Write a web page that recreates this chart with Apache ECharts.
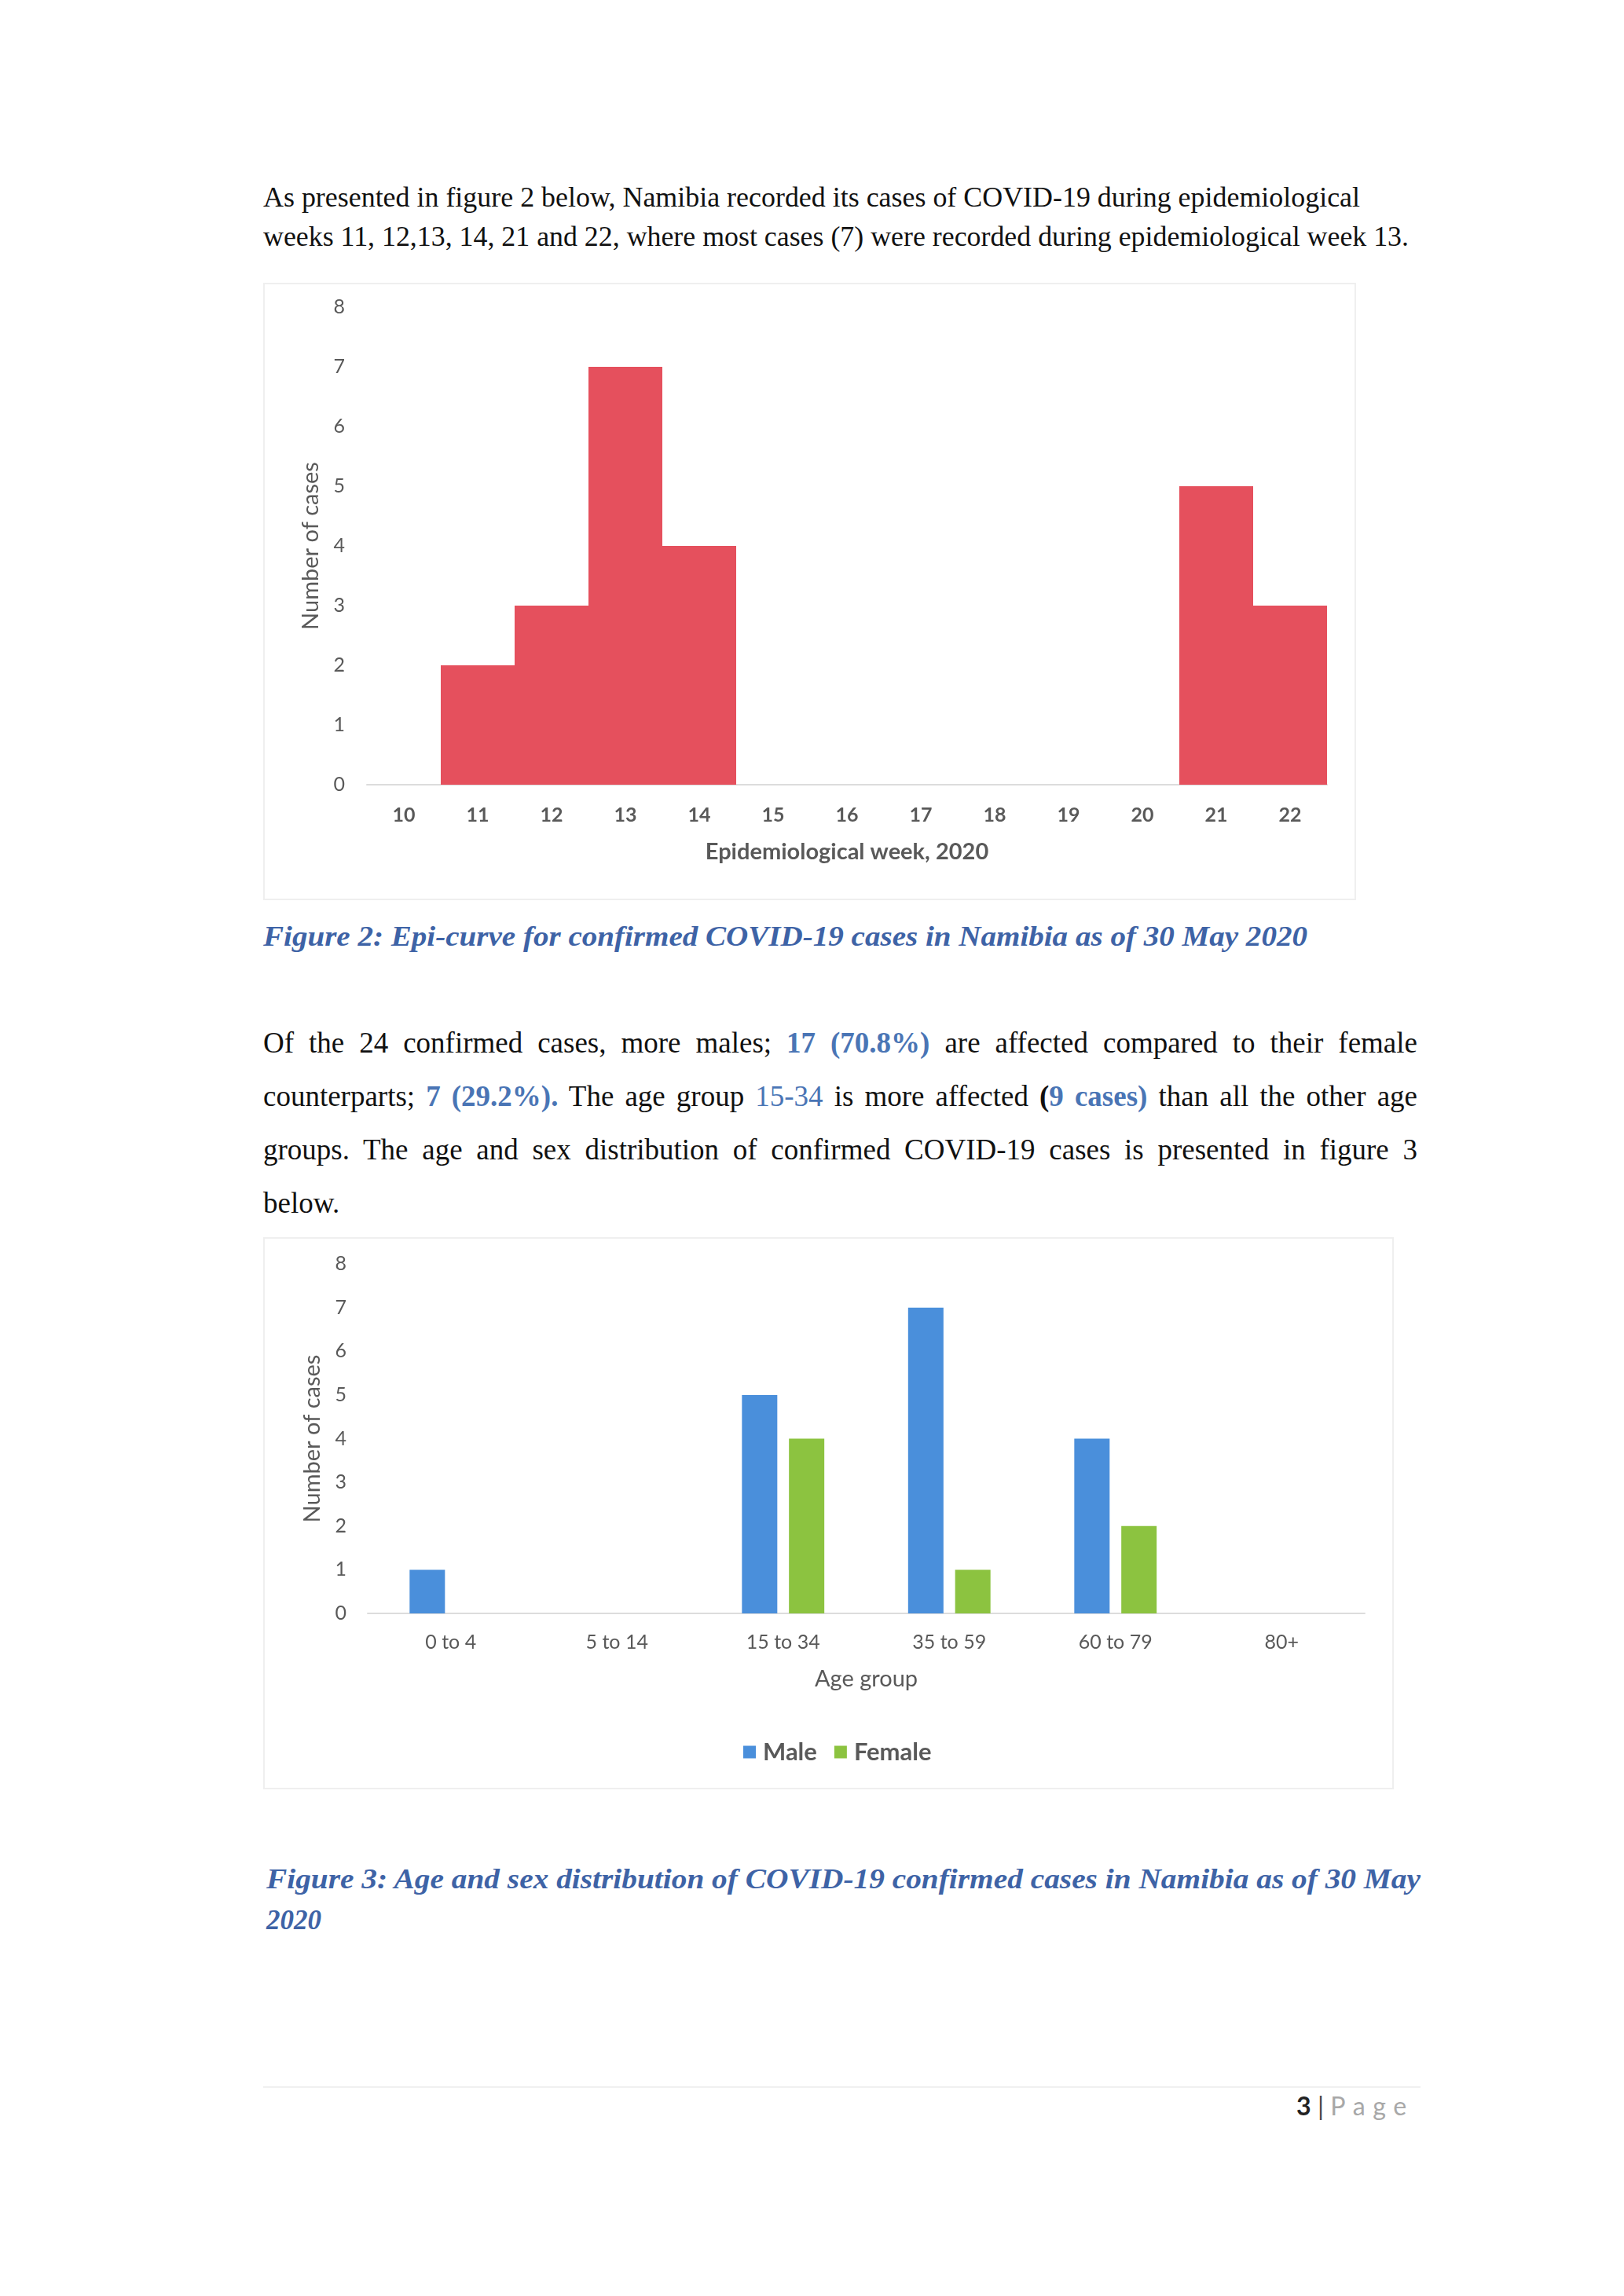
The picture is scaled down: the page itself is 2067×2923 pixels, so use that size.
<!DOCTYPE html>
<html><head><meta charset="utf-8">
<script src="https://cdn.jsdelivr.net/npm/echarts@6/dist/echarts.min.js"></script>
<style>
html,body{margin:0;padding:0;background:#fff;}
body{width:2067px;height:2923px;position:relative;overflow:hidden;}
.t{position:absolute;white-space:nowrap;line-height:1;font-family:"Liberation Serif","Times New Roman",serif;color:#111;transform-origin:0 0;}
.cap{font-weight:bold;font-style:italic;color:#3E63A6;}
.hl{color:#4A75B5;}
.b{font-weight:bold;}
.frame{position:absolute;border:2px solid #efefef;box-sizing:border-box;}
#c1{left:335px;top:360px;width:1391px;height:786px;}
#c2{left:335px;top:1575px;width:1439px;height:703px;}
.rule{position:absolute;left:335px;top:2656px;width:1473px;height:2px;background:#f0f0f0;}
</style></head>
<body>
<div id="text"></div>
<div id="c1" class="frame"></div>
<div id="c2" class="frame"></div>
<div class="rule"></div>
<script>
// ---- data ----
const weeks = ['10','11','12','13','14','15','16','17','18','19','20','21','22'];
const weekCases = [0, 2, 3, 7, 4, 0, 0, 0, 0, 0, 0, 5, 3];
const ageGroups = ['0 to 4','5 to 14','15 to 34','35 to 59','60 to 79','80+'];
const maleCases = [1, 0, 5, 7, 4, 0];
const femaleCases = [0, 0, 4, 1, 2, 0];
const seriesNames = ['Male','Female'];
const yMin = 0, yMax = 8, yStep = 1;

// ---- text lines ----
const lines = [
  {h:'As presented in figure 2 below, Namibia recorded its cases of COVID-19 during epidemiological', x:335, base:263, size:35, w:1396, mode:'scale'},
  {h:'weeks 11, 12,13, 14, 21 and 22, where most cases (7) were recorded during epidemiological week 13.', x:335, base:313, size:35, w:1458, mode:'scale'},
  {h:'Figure 2: Epi-curve for confirmed COVID-19 cases in Namibia as of 30 May 2020', x:335, base:1204, size:35, w:1329, mode:'scale', cls:'cap'},
  {h:'Of the 24 confirmed cases, more males; <span class="hl b">17 (70.8%)</span> are affected compared to their female', x:335, base:1340, size:37, w:1469, mode:'justify'},
  {h:'counterparts; <span class="hl b">7 (29.2%).</span> The age group <span class="hl">15-34</span> is more affected <span class="b">(</span><span class="hl b">9 cases)</span> than all the other age', x:335, base:1408, size:37, w:1469, mode:'justify'},
  {h:'groups. The age and sex distribution of confirmed COVID-19 cases is presented in figure 3', x:335, base:1476, size:37, w:1469, mode:'justify'},
  {h:'below.', x:335, base:1544, size:37, w:0, mode:'none'},
  {h:'Figure 3: Age and sex distribution of COVID-19 confirmed cases in Namibia as of 30 May', x:339, base:2404, size:35, w:1469, mode:'scale', cls:'cap'},
  {h:'2020', x:339, base:2456, size:35, w:0, mode:'none', cls:'cap'},
  {h:'<span style="font-weight:bold;color:#222">3</span> <span style="color:#444">|</span> <span style="color:#a8a8a8;letter-spacing:0.3em">Page</span>', x:1650, base:2692, size:32, w:150, mode:'scale', font:'Lato'}
];
const host = document.getElementById('text');
lines.forEach(L => {
  const d = document.createElement('div');
  d.className = 't' + (L.cls ? ' ' + L.cls : '');
  d.innerHTML = L.h;
  d.style.fontSize = L.size + 'px';
  if (L.font) d.style.fontFamily = L.font;
  d.style.left = L.x + 'px';
  d.style.top = (L.base - 0.8375 * L.size) + 'px';
  host.appendChild(d);
  const nat = d.getBoundingClientRect().width;
  if (L.mode === 'justify' && nat < L.w) {
    const spaces = (d.textContent.match(/ /g) || []).length;
    d.style.wordSpacing = ((L.w - nat) / spaces) + 'px';
  } else if ((L.mode === 'scale' || L.mode === 'justify') && L.w > 0) {
    d.style.transform = 'scaleX(' + (L.w / nat) + ')';
  }
});

const grey = '#595959';
const FONT = 'Lato';

// ---- chart 1 ----
const ch1 = echarts.init(document.getElementById('c1'));
ch1.setOption({
  animation: false,
  grid: {left: 130, right: 35, top: 29, bottom: 145},
  xAxis: {
    type: 'category', data: weeks,
    axisTick: {show: false},
    axisLine: {lineStyle: {color: '#dcdcdc', width: 2}},
    axisLabel: {margin: 26, fontSize: 25, fontWeight: 'bold', color: grey, fontFamily: FONT},
    name: 'Epidemiological week, 2020', nameLocation: 'middle', nameGap: 71,
    nameTextStyle: {fontSize: 29, color: grey, fontFamily: FONT, fontWeight: 'bold'}
  },
  yAxis: {
    type: 'value', min: yMin, max: yMax, interval: yStep,
    splitLine: {show: false}, axisLine: {show: false}, axisTick: {show: false},
    axisLabel: {fontSize: 25, color: grey, margin: 28, fontFamily: FONT},
    name: 'Number of cases', nameLocation: 'middle', nameGap: 57,
    nameTextStyle: {fontSize: 29, color: grey, fontFamily: FONT}
  },
  series: [{type: 'bar', data: weekCases, barCategoryGap: '0%', itemStyle: {color: '#E5505D'}}]
});

// ---- chart 2 ----
const ch2 = echarts.init(document.getElementById('c2'));
ch2.setOption({
  animation: false,
  grid: {left: 131, right: 35, top: 32, bottom: 222},
  legend: {
    data: seriesNames, left: 604, top: 633, icon: 'rect', itemWidth: 16, itemHeight: 16, itemGap: 22,
    textStyle: {fontSize: 31, color: grey, fontFamily: FONT, fontWeight: 'bold', padding: [0, 0, 0, 4]}
  },
  xAxis: {
    type: 'category', data: ageGroups,
    axisTick: {show: false},
    axisLine: {lineStyle: {color: '#dcdcdc', width: 2}},
    axisLabel: {margin: 24, fontSize: 25, color: grey, fontFamily: FONT},
    name: 'Age group', nameLocation: 'middle', nameGap: 69,
    nameTextStyle: {fontSize: 29, color: grey, fontFamily: FONT}
  },
  yAxis: {
    type: 'value', min: yMin, max: yMax, interval: yStep,
    splitLine: {show: false}, axisLine: {show: false}, axisTick: {show: false},
    axisLabel: {fontSize: 25, color: grey, margin: 27, fontFamily: FONT},
    name: 'Number of cases', nameLocation: 'middle', nameGap: 56,
    nameTextStyle: {fontSize: 29, color: grey, fontFamily: FONT}
  },
  series: [
    {name: seriesNames[0], type: 'bar', data: maleCases, barWidth: 45, barGap: '33%', itemStyle: {color: '#4A8FDB'}},
    {name: seriesNames[1], type: 'bar', data: femaleCases, barWidth: 45, barGap: '33%', itemStyle: {color: '#8CC340'}}
  ]
});
</script>
</body></html>
